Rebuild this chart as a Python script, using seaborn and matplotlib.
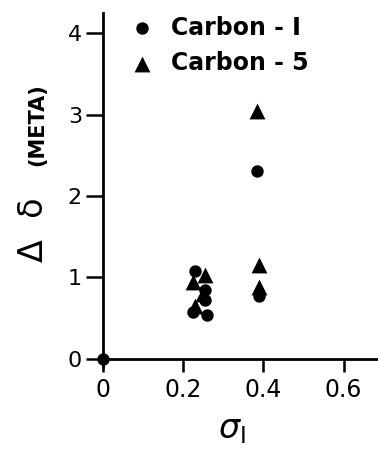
import matplotlib
matplotlib.use("Agg")
import matplotlib.pyplot as plt
import seaborn as sns
import pandas as pd

sns.set_theme(style="white")
plt.rcParams['font.family'] = ['DejaVu Sans']
plt.rcParams['text.color'] = 'black'

# Data
c1_x = [0.0, 0.23, 0.255, 0.255, 0.225, 0.26, 0.385, 0.39]
c1_y = [0.0, 1.08, 0.85, 0.72, 0.57, 0.54, 2.31, 0.77]
c5_x = [0.385, 0.39, 0.39, 0.255, 0.225, 0.23, 0.25]
c5_y = [3.05, 1.15, 0.88, 1.03, 0.95, 0.65, 0.80]
series_names = ["Carbon - I", "Carbon - 5"]
x_ticks = [0, 0.2, 0.4, 0.6]
x_tick_labels = ["0", "0.2", "0.4", "0.6"]
y_ticks = [0, 1, 2, 3, 4]
y_tick_labels = ["0", "1", "2", "3", "4"]

df1 = pd.DataFrame({"x": c1_x, "y": c1_y, "series": series_names[0]})
df5 = pd.DataFrame({"x": c5_x, "y": c5_y, "series": series_names[1]})

fig = plt.figure(figsize=(3.78, 4.53), dpi=100)
ax = fig.add_axes([0.272, 0.19, 0.728, 0.781])

sns.scatterplot(data=df1, x="x", y="y", marker="o", s=80, color="black",
                edgecolor="black", linewidth=0, ax=ax, clip_on=False,
                label=series_names[0], zorder=5)
sns.scatterplot(data=df5, x="x", y="y", marker="^", s=130, color="black",
                edgecolor="black", linewidth=0, ax=ax, clip_on=False,
                label=series_names[1], zorder=5)

ax.set_xlim(0, 0.686)
ax.set_ylim(-0.1, 4.25)
ax.spines['right'].set_visible(False)
ax.spines['top'].set_visible(False)
ax.spines['bottom'].set_position(('data', 0))
for sp in ['left', 'bottom']:
    ax.spines[sp].set_linewidth(2.0)
    ax.spines[sp].set_color('black')

ax.set_xticks(x_ticks)
ax.set_xticklabels(x_tick_labels)
ax.set_yticks(y_ticks)
ax.set_yticklabels(y_tick_labels)
ax.tick_params(axis='both', which='major', direction='out',
               width=1.8, color='black', labelsize=16, labelcolor='black',
               bottom=True, left=True)
ax.tick_params(axis='x', length=9, pad=5, labelsize=17)
ax.tick_params(axis='y', length=12, pad=3)
ax.set_xlabel("")
ax.set_ylabel("")

# Axis labels
fig.text(0.612, 0.052, r"$\sigma_{\mathrm{I}}$", fontsize=24, ha='center', va='center')
fig.text(0.088, 0.492, "Δ  δ", fontsize=24, rotation=90, ha='center', va='center')
fig.text(0.098, 0.724, "(META)", fontsize=15, fontweight='bold', rotation=90,
         ha='center', va='center')

leg = ax.legend(loc='upper left', bbox_to_anchor=(0.022, 1.02), frameon=False,
                prop={'size': 17, 'weight': 'bold'}, handletextpad=0.25,
                labelspacing=0.5, borderaxespad=0, markerscale=1.0)
for t in leg.get_texts():
    t.set_color('black')

fig.savefig("out.png", dpi=100)
